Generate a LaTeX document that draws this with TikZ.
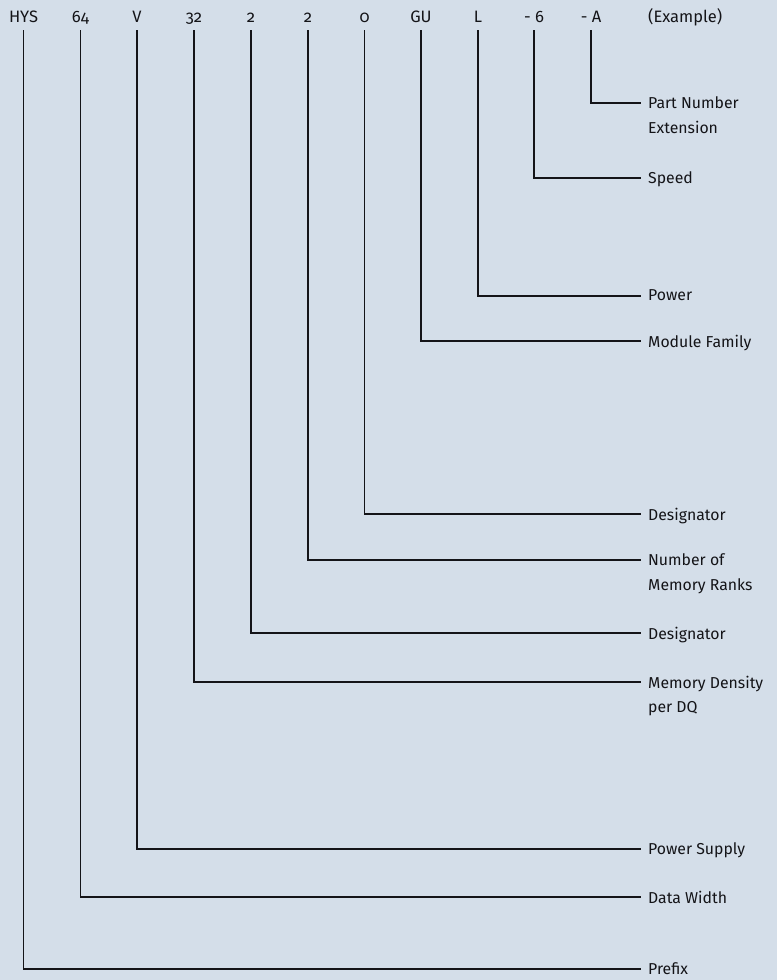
\documentclass[tikz,border=0pt]{standalone}
\usepackage{fontspec}
\setmainfont{Fira Sans}[Numbers=OldStyle]
\definecolor{bg}{RGB}{212,222,233}
\definecolor{ink}{RGB}{20,20,24}
\begin{document}
\begin{tikzpicture}[x=1pt,y=-1pt,
  code/.style={anchor=base, inner sep=0pt, text depth=7.5pt, font=\fontsize{16.5}{19}\selectfont, text=ink},
  lbl/.style={anchor=north west, inner sep=0pt, yshift=6.3pt, align=left, font=\fontsize{15.8}{24.5}\selectfont, text=ink},
  conn/.style={line width=1.8pt, draw=ink}]
\fill[bg] (0,0) rectangle (777,980);
\useasboundingbox (0,0) rectangle (777,980);
% codes
\node[code] (c1) at (23.5,22.5) {HYS};
\node[code] (c2) at (80.5,22.5) {64};
\node[code] (c3) at (137,22.5) {V};
\node[code] (c4) at (194,22.5) {32};
\node[code] (c5) at (251,22.5) {2};
\node[code] (c6) at (308,22.5) {2};
\node[code] (c7) at (364.5,22.5) {0};
\node[code] (c8) at (421,22.5) {GU};
\node[code] (c9) at (478,22.5) {L};
\node[code] (c10) at (534,22.5) {- 6};
\node[code] (c11) at (591,22.5) {- A};
\node[code, anchor=base west] (ex) at (648,22.5) {(Example)};
% labels
\node[lbl] (l11) at (648,103) {Part Number\\Extension};
\node[lbl] (l10) at (648,178) {Speed};
\node[lbl] (l9) at (648,296) {Power};
\node[lbl] (l8) at (648,341) {Module Family};
\node[lbl] (l7) at (648,514) {Designator};
\node[lbl] (l6) at (648,560) {Number of\\Memory Ranks};
\node[lbl] (l5) at (648,633) {Designator};
\node[lbl] (l4) at (648,682) {Memory Density\\per DQ};
\node[lbl] (l3) at (648,849) {Power Supply};
\node[lbl] (l2) at (648,897) {Data Width};
\node[lbl] (l1) at (648,969) {Prefix};
% connector ends
\foreach \i/\y in {11/103,10/178,9/296,8/341,7/514,6/560,5/633,4/682,3/849,2/897,1/969}{
  \coordinate (e\i) at (641,\y);
  \draw[conn] (c\i.south) |- (e\i);
}
\end{tikzpicture}
\end{document}
